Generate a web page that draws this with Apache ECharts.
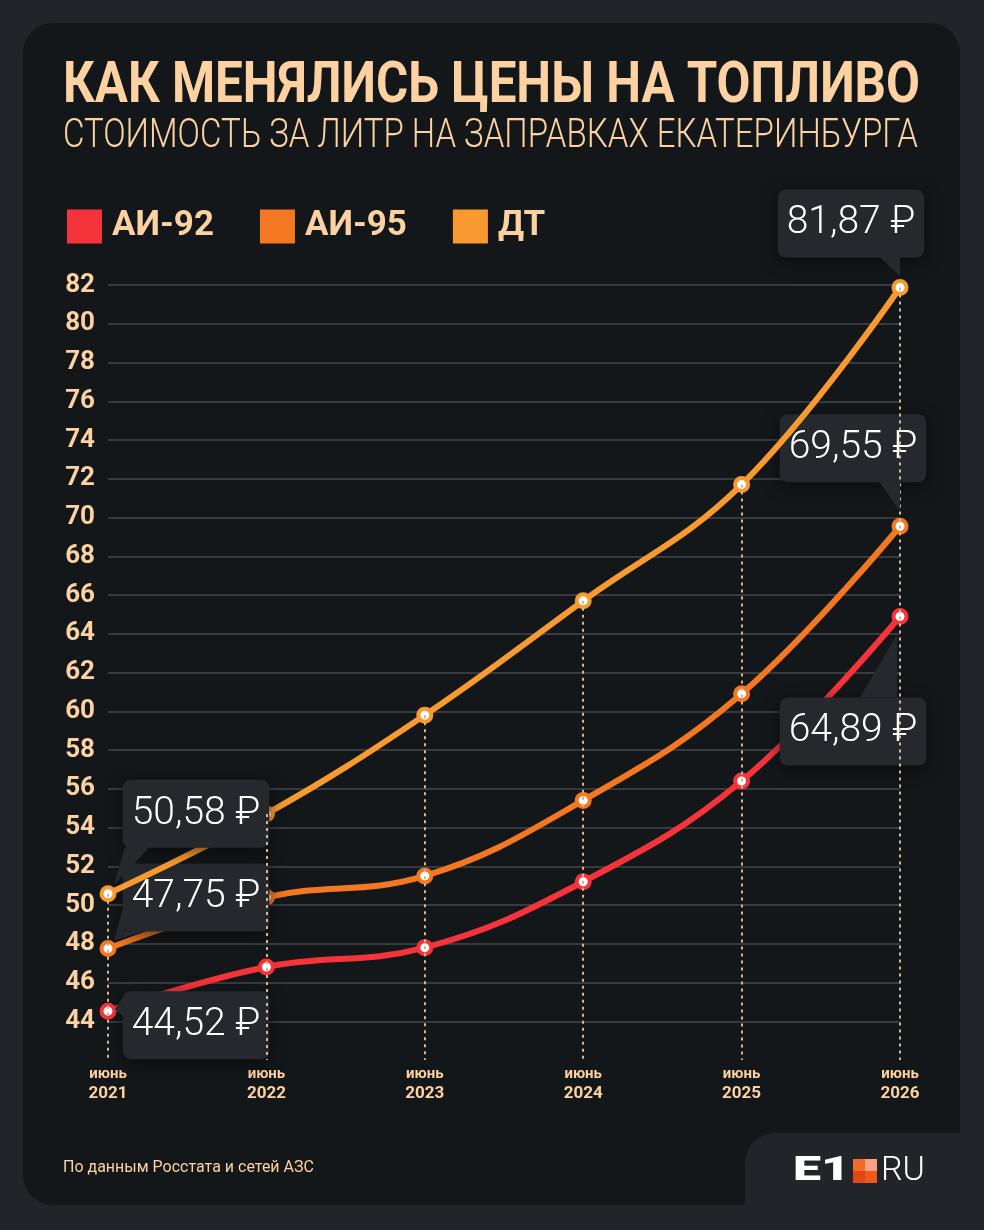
<!DOCTYPE html>
<html>
<head>
<meta charset="utf-8">
<script src="https://cdn.jsdelivr.net/npm/echarts@6/dist/echarts.min.js"></script>
<style>
  html, body { margin: 0; padding: 0; background: #212428; }
  #chart { width: 984px; height: 1230px; }
</style>
</head>
<body>
<div id="chart"></div>
<script>
// данные
const years = ['2021', '2022', '2023', '2024', '2025', '2026'];
const monthLabel = 'июнь';
const ai92 = [44.52, 46.8, 47.8, 51.2, 56.4, 64.89];
const ai95 = [47.75, 50.4, 51.5, 55.4, 60.9, 69.55];
const dt = [50.58, 54.7, 59.8, 65.7, 71.7, 81.87];
const seriesNames = ['АИ-92', 'АИ-95', 'ДТ'];
const yMin = 42, yMax = 82, yStep = 2;

const colors = ['#f5333b', '#f47821', '#f89a2f'];
const peach = '#fcd2a2';
const boxColor = '#25282c';
const titleText = 'КАК МЕНЯЛИСЬ ЦЕНЫ НА ТОПЛИВО';
const subtitleText = 'СТОИМОСТЬ ЗА ЛИТР НА ЗАПРАВКАХ ЕКАТЕРИНБУРГА';
const sourceText = 'По данным Росстата и сетей АЗС';

// смещения подписей от точки (первая / последняя)
const labelOffsets = {
  first: [[88, 14], [88, -51], [88, -80]],
  last: [[-47, 115], [-47, -78], [-49, -64]]
};
// хвостики у подписей, относительно точки
const tails = {
  first: [
    [[16, -16], [16, 6], [7, -2]],
    [[16, -44], [16, -18], [40, -18], [6, -8]],
    [[17, -47], [42, -47], [6, -9]]
  ],
  last: [
    [[-40, 81], [-3, 81], [-3, 18]],
    [[-22, -46], [0, -46], [0, -15]],
    [[-22, -32], [0, -32], [0, -11]]
  ]
};

const chart = echarts.init(document.getElementById('chart'));
const fmt = v => v.toFixed(2).replace('.', ',') + ' ₽';

function measure(text, font) {
  const ctx = document.createElement('canvas').getContext('2d');
  ctx.font = font;
  return ctx.measureText(text).width;
}

const labelBase = {
  show: true,
  position: 'inside',
  formatter: p => fmt(p.value),
  color: '#ffffff',
  fontFamily: 'Roboto',
  fontWeight: 300,
  fontSize: 39,
  lineHeight: 44,
  backgroundColor: boxColor,
  borderRadius: 8,
  padding: [12, 9],
  shadowBlur: 16,
  shadowColor: 'rgba(0,0,0,0.55)',
  shadowOffsetY: 4
};

function buildData(values, si) {
  const last = values.length - 1;
  return values.map((v, i) => {
    if (i === 0) return { value: v, label: Object.assign({}, labelBase, { offset: labelOffsets.first[si] }) };
    if (i === last) return { value: v, label: Object.assign({}, labelBase, { offset: labelOffsets.last[si] }) };
    return { value: v, label: { show: false } };
  });
}

const allSeries = [ai92, ai95, dt];
const tops = years.map((y, i) => Math.max(ai92[i], ai95[i], dt[i]));

const titleFont = 'bold 58px Roboto';
const subFont = '300 40px Roboto';
const logoFont = '900 34px Roboto';
const titleScale = 857 / measure(titleText, titleFont);
const subScale = 855 / measure(subtitleText, subFont);
const logoScale = 57 / measure('E1', logoFont);

const baseGraphic = [
  { id: 'card', type: 'rect', z: -10, shape: { x: 23, y: 23, width: 937, height: 1182, r: 30 }, style: { fill: '#14171a' } },
  { id: 'notch', type: 'rect', z: -9, shape: { x: 745, y: 1133, width: 260, height: 120, r: [30, 0, 0, 0] }, style: { fill: '#212428' } },
  { id: 'title', type: 'text', x: 63, y: 87, scaleX: titleScale, style: { text: titleText, font: titleFont, fill: peach, textVerticalAlign: 'middle' } },
  { id: 'sub', type: 'text', x: 63, y: 137, scaleX: subScale, style: { text: subtitleText, font: subFont, fill: peach, textVerticalAlign: 'middle' } },
  { id: 'src', type: 'text', x: 63, y: 1168, style: { text: sourceText, font: '16px Roboto', fill: peach, textVerticalAlign: 'middle' } },
  { id: 'logoE1', type: 'text', x: 793, y: 1171, scaleX: logoScale, style: { text: 'E1', font: logoFont, fill: '#ffffff', textVerticalAlign: 'middle' } },
  { id: 'sq1', type: 'rect', shape: { x: 853, y: 1159, width: 12, height: 12 }, style: { fill: '#f26b2b' } },
  { id: 'sq2', type: 'rect', shape: { x: 865, y: 1159, width: 12, height: 12 }, style: { fill: '#f6a283' } },
  { id: 'sq3', type: 'rect', shape: { x: 853, y: 1171, width: 12, height: 12 }, style: { fill: '#e0480f' } },
  { id: 'sq4', type: 'rect', shape: { x: 865, y: 1171, width: 12, height: 12 }, style: { fill: '#ee5a1a' } },
  { id: 'logoRU', type: 'text', x: 881, y: 1171, style: { text: 'RU', font: '300 34px Roboto', fill: '#ffffff', textVerticalAlign: 'middle' } }
];

const option = {
  backgroundColor: '#212428',
  animation: false,
  grid: { left: 108, right: 84, top: 285, bottom: 170 },
  legend: {
    left: 62,
    top: 204,
    icon: 'rect',
    itemWidth: 33,
    itemHeight: 32,
    itemGap: 46,
    selectedMode: false,
    data: seriesNames.map((n, i) => ({ name: n, itemStyle: { color: colors[i] } })),
    textStyle: { color: peach, fontSize: 35, fontWeight: 'bold', fontFamily: 'Roboto', padding: [0, 0, 0, 6] }
  },
  xAxis: {
    type: 'category',
    data: years,
    boundaryGap: false,
    axisLine: { show: false },
    axisTick: { show: false },
    splitLine: { show: false },
    axisLabel: {
      margin: 5,
      formatter: v => '{m|' + monthLabel + '}\n{y|' + v + '}',
      rich: {
        m: { color: peach, fontSize: 15, fontWeight: 'bold', fontFamily: 'Roboto', lineHeight: 18 },
        y: { color: peach, fontSize: 17, fontWeight: 'bold', fontFamily: 'Roboto', lineHeight: 22 }
      }
    }
  },
  yAxis: {
    type: 'value',
    min: yMin,
    max: yMax,
    interval: yStep,
    axisLine: { show: false },
    axisTick: { show: false },
    axisLabel: {
      margin: 13,
      color: peach,
      fontSize: 26,
      fontWeight: 'bold',
      fontFamily: 'Roboto',
      formatter: v => (v === yMin ? '' : v)
    },
    splitLine: { show: true, showMinLine: false, lineStyle: { color: '#373a3f', width: 2 } }
  },
  series: [
    {
      name: 'drops',
      type: 'line',
      data: [],
      z: 1,
      silent: true,
      markLine: {
        silent: true,
        symbol: 'none',
        animation: false,
        label: { show: false },
        lineStyle: { color: '#d9b48c', type: [3, 4], width: 2 },
        data: years.map((y, i) => [{ coord: [y, tops[i]] }, { coord: [y, yMin] }])
      }
    }
  ].concat(allSeries.map((vals, si) => ({
    name: seriesNames[si],
    type: 'line',
    z: 2 + si,
    smooth: 0.4,
    data: buildData(vals, si),
    symbol: 'circle',
    symbolSize: 13,
    showAllSymbol: true,
    lineStyle: { color: colors[si], width: 6 },
    itemStyle: { color: '#ffffff', borderColor: colors[si], borderWidth: 4 },
    label: { show: false },
    emphasis: { disabled: true }
  }))),
  graphic: baseGraphic
};

chart.setOption(option);

// хвостики подписей считаются от пиксельных координат точек
const tailGraphic = [];
allSeries.forEach((vals, si) => {
  [['first', 0], ['last', vals.length - 1]].forEach(([key, idx]) => {
    const p = chart.convertToPixel({ gridIndex: 0 }, [idx, vals[idx]]);
    tailGraphic.push({
      id: 'tail-' + si + '-' + key,
      type: 'polygon',
      z: 100,
      shape: { points: tails[key][si].map(d => [p[0] + d[0], p[1] + d[1]]) },
      style: { fill: boxColor }
    });
  });
});
chart.setOption({ graphic: baseGraphic.concat(tailGraphic) });
</script>
</body>
</html>
